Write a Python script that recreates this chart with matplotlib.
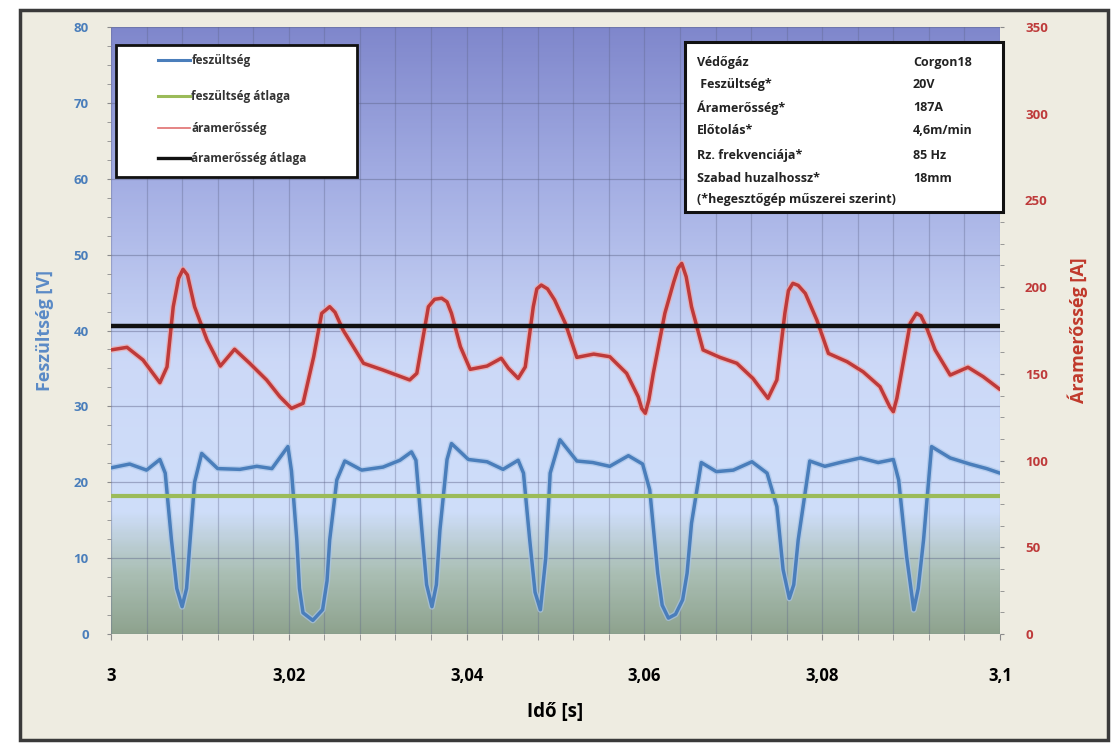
import numpy as np
import matplotlib
matplotlib.use("Agg")
import matplotlib.pyplot as plt
from matplotlib.colors import LinearSegmentedColormap
from matplotlib.patches import Rectangle
from matplotlib.lines import Line2D
from matplotlib.ticker import MultipleLocator, FuncFormatter

plt.rcParams['font.family'] = ['Open Sans', 'DejaVu Sans']

# ---- data ------------------------------------------------------------------
volt_t = [3.0000, 3.0021, 3.0040, 3.0055, 3.0061, 3.0068, 3.0074, 3.0080, 3.0085, 3.0089,
          3.0094, 3.0102, 3.0120, 3.0145, 3.0164, 3.0181, 3.0199, 3.0203, 3.0209, 3.0212,
          3.0216, 3.0227, 3.0238, 3.0243, 3.0246, 3.0254, 3.0263, 3.0282, 3.0306, 3.0325,
          3.0338, 3.0343, 3.0349, 3.0355, 3.0361, 3.0366, 3.0370, 3.0378, 3.0383, 3.0402,
          3.0423, 3.0441, 3.0458, 3.0464, 3.0471, 3.0477, 3.0483, 3.0489, 3.0494, 3.0505,
          3.0524, 3.0542, 3.0561, 3.0582, 3.0598, 3.0606, 3.0615, 3.0620, 3.0627, 3.0635,
          3.0643, 3.0648, 3.0653, 3.0664, 3.0681, 3.0700, 3.0721, 3.0738, 3.0749, 3.0756,
          3.0763, 3.0768, 3.0773, 3.0786, 3.0803, 3.0820, 3.0843, 3.0863, 3.0880, 3.0886,
          3.0895, 3.0903, 3.0908, 3.0914, 3.0923, 3.0944, 3.0966, 3.0985, 3.1000]
volt_v = [21.9, 22.4, 21.6, 23.0, 21.2, 12.4, 6.0, 3.6, 6.0, 12.4,
          20.0, 23.8, 21.8, 21.7, 22.1, 21.8, 24.7, 21.5, 12.4, 6.0,
          2.8, 1.8, 3.2, 7.0, 12.4, 20.3, 22.8, 21.6, 22.0, 22.9,
          24.0, 22.9, 14.6, 6.5, 3.6, 6.5, 13.7, 23.0, 25.1, 23.0,
          22.7, 21.7, 22.9, 21.2, 12.4, 5.5, 3.2, 10.0, 21.2, 25.6,
          22.8, 22.6, 22.1, 23.5, 22.4, 19.0, 8.0, 3.8, 2.1, 2.6,
          4.5, 8.0, 14.6, 22.6, 21.4, 21.6, 22.7, 21.2, 16.8, 8.5,
          4.7, 6.5, 12.4, 22.8, 22.1, 22.6, 23.2, 22.6, 23.0, 20.3,
          10.2, 3.2, 6.0, 12.4, 24.7, 23.2, 22.4, 21.8, 21.2]

curr_t = [3.0000, 3.0018, 3.0036, 3.0055, 3.0063, 3.0070, 3.0076, 3.0081, 3.0086, 3.0094,
          3.0108, 3.0123, 3.0139, 3.0156, 3.0175, 3.0190, 3.0203, 3.0216, 3.0228, 3.0237,
          3.0246, 3.0252, 3.0261, 3.0284, 3.0306, 3.0336, 3.0344, 3.0357, 3.0364, 3.0372,
          3.0378, 3.0383, 3.0393, 3.0404, 3.0423, 3.0439, 3.0447, 3.0458, 3.0466, 3.0475,
          3.0479, 3.0484, 3.0491, 3.0499, 3.0511, 3.0524, 3.0543, 3.0561, 3.0580, 3.0593,
          3.0597, 3.0601, 3.0605, 3.0610, 3.0623, 3.0633, 3.0638, 3.0642, 3.0647, 3.0653,
          3.0666, 3.0685, 3.0704, 3.0722, 3.0739, 3.0749, 3.0758, 3.0762, 3.0767, 3.0773,
          3.0781, 3.0794, 3.0807, 3.0828, 3.0846, 3.0865, 3.0876, 3.0880, 3.0884, 3.0889,
          3.0899, 3.0906, 3.0911, 3.0917, 3.0927, 3.0944, 3.0964, 3.0981, 3.1000]
curr_a = [163.8, 165.3, 158.0, 144.9, 154.0, 188.7, 205.0, 210.3, 207.0, 188.7,
          169.5, 154.5, 164.2, 156.1, 146.5, 136.8, 130.1, 133.0, 159.9, 184.9,
          188.7, 185.5, 175.3, 156.1, 152.2, 146.5, 150.3, 188.7, 193.0, 193.6,
          191.5, 184.9, 165.7, 152.6, 154.5, 159.0, 153.2, 147.4, 154.0, 188.7,
          199.0, 201.2, 199.0, 192.6, 179.2, 159.5, 161.4, 159.9, 150.3, 136.8,
          130.0, 127.3, 135.0, 150.3, 184.9, 203.0, 211.0, 213.7, 206.0, 188.7,
          163.8, 159.5, 156.1, 147.4, 135.9, 146.5, 184.9, 198.0, 202.2, 201.0,
          196.4, 181.0, 161.8, 157.0, 151.2, 142.6, 131.0, 128.2, 136.0, 150.3,
          179.2, 184.9, 183.5, 177.2, 163.8, 149.3, 153.8, 148.4, 141.0]

volt_avg = 18.2
curr_avg = 177.6

legend_labels = ["feszültség", "feszültség átlaga", "áramerősség", "áramerősség átlaga"]
info_keys = ["Védőgáz", " Feszültség*", "Áramerősség*", "Előtolás*",
             "Rz. frekvenciája*", "Szabad huzalhossz*", "(*hegesztőgép műszerei szerint)"]
info_vals = ["Corgon18", "20V", "187A", "4,6m/min", "85 Hz", "18mm", ""]

BLUE = "#4a7ebb"
GREEN = "#9bbb59"
RED = "#be3a3a"
TAN = "#eeece1"

# ---- figure ------------------------------------------------------------------
fig = plt.figure(figsize=(11.12, 7.43), dpi=100, facecolor="white")
fig.patches.append(Rectangle((20 / 1112, 1 - 740 / 743), 1088 / 1112, 730 / 743,
                             transform=fig.transFigure, facecolor=TAN,
                             edgecolor="#3a3a3a", lw=2.5, zorder=-10))

ax = fig.add_axes([111 / 1112, 1 - 634 / 743, 889 / 1112, 607 / 743])
ax.set_facecolor("none")

# background gradient (Excel style fill)
stops = [(0.00, (0.56, 0.64, 0.56)),
         (0.10, (0.67, 0.75, 0.71)),
         (0.20, (0.81, 0.87, 0.98)),
         (0.45, (0.80, 0.85, 0.97)),
         (0.75, (0.64, 0.68, 0.89)),
         (1.00, (0.50, 0.53, 0.80))]
cmap = LinearSegmentedColormap.from_list("bg", stops)
grad = np.linspace(1, 0, 300).reshape(-1, 1)
ax.imshow(grad, extent=[3.0, 3.1, 0, 80], aspect="auto", cmap=cmap,
          vmin=0, vmax=1, zorder=0, interpolation="bilinear")

ax.set_xlim(3.0, 3.1)
ax.set_ylim(0, 80)

ax.xaxis.set_major_locator(MultipleLocator(0.02))
ax.xaxis.set_minor_locator(MultipleLocator(0.004))
ax.yaxis.set_major_locator(MultipleLocator(10))
ax.yaxis.set_minor_locator(MultipleLocator(2.5))
ax.grid(True, which="both", axis="x", color="#5d6488", alpha=0.35, lw=0.9, zorder=1)
ax.grid(True, which="major", axis="y", color="#5d6488", alpha=0.45, lw=0.9, zorder=1)
ax.set_axisbelow(False)

ax.xaxis.set_major_formatter(FuncFormatter(lambda v, p: f"{v:g}".replace(".", ",")))
ax.tick_params(axis="x", which="both", direction="out", length=4, color="#8a8a8a",
               labelsize=12, pad=20)
for lbl in ax.get_xticklabels():
    lbl.set_fontweight("bold")
ax.tick_params(axis="y", which="both", direction="out", length=3, color="#8a8a8a",
               labelsize=9.5, labelcolor=BLUE, pad=13)
for lbl in ax.get_yticklabels():
    lbl.set_fontweight("bold")
for s in ax.spines.values():
    s.set_visible(False)

ax.plot(volt_t, volt_v, color="#a8c4e8", lw=4.4, alpha=0.7, zorder=3,
        solid_joinstyle="round", solid_capstyle="round")
ax.plot(volt_t, volt_v, color=BLUE, lw=2.5, zorder=4,
        solid_joinstyle="round", solid_capstyle="round")
ax.axhline(volt_avg, color=GREEN, lw=3, zorder=4)

ax.set_xlabel("Idő [s]", fontsize=13.5, fontweight="bold", labelpad=12)
ax.set_ylabel("Feszültség [V]", fontsize=13, fontweight="bold", color="#5a8ac6", labelpad=14)

ax2 = ax.twinx()
ax2.set_ylim(0, 350)
ax2.yaxis.set_major_locator(MultipleLocator(50))
ax2.yaxis.set_minor_locator(MultipleLocator(12.5))
ax2.tick_params(axis="y", which="both", direction="out", length=3, color="#8a8a8a",
                labelsize=9.5, labelcolor=RED, pad=15)
for lbl in ax2.get_yticklabels():
    lbl.set_fontweight("bold")
for s in ax2.spines.values():
    s.set_visible(False)
ax2.plot(curr_t, curr_a, color="#f0a8a8", lw=4.4, alpha=0.7, zorder=3,
         solid_joinstyle="round", solid_capstyle="round")
ax2.plot(curr_t, curr_a, color=RED, lw=2.5, zorder=4,
         solid_joinstyle="round", solid_capstyle="round")
ax2.axhline(curr_avg, color="#111111", lw=3.2, zorder=4)
ax2.set_ylabel("Áramerősség [A]", fontsize=13, fontweight="bold", color="#c0392b",
               labelpad=14, rotation=90)

# ---- legend box (manual, as in the Excel chart) ------------------------------
tr = ax2.transAxes
ax2.add_patch(Rectangle((0.0056, 0.753), 0.2711, 0.217, transform=tr, facecolor="white",
                        edgecolor="#111111", lw=2, zorder=10, clip_on=False))
leg_styles = [(BLUE, 2.2), (GREEN, 2.2), ("#e07070", 1.2), ("#111111", 2.4)]
leg_y = [0.9456, 0.886, 0.8336, 0.784]
for (c, w), y, lab in zip(leg_styles, leg_y, legend_labels):
    ax2.add_line(Line2D([0.0529, 0.0889], [y, y], color=c, lw=w, transform=tr,
                        zorder=11, clip_on=False))
    ax2.text(0.0905, y, lab, transform=tr, fontsize=8.5, color="#333333",
             fontweight="bold", va="center", ha="left", zorder=11)

# ---- info box ---------------------------------------------------------------
ax2.add_patch(Rectangle((0.6457, 0.6952), 0.3577, 0.2801, transform=tr, facecolor="white",
                        edgecolor="#111111", lw=2.2, zorder=10, clip_on=False))
info_y = [0.9423, 0.9045, 0.8666, 0.8287, 0.7891, 0.7512, 0.7150]
for y, k, v in zip(info_y, info_keys, info_vals):
    ax2.text(0.659, y, k, transform=tr, fontsize=9, fontweight="bold", color="#222222",
             va="center", ha="left", zorder=11)
    ax2.text(0.902, y, v, transform=tr, fontsize=9, fontweight="bold", color="#222222",
             va="center", ha="left", zorder=11)

fig.savefig("out.png", dpi=100, facecolor=fig.get_facecolor())
